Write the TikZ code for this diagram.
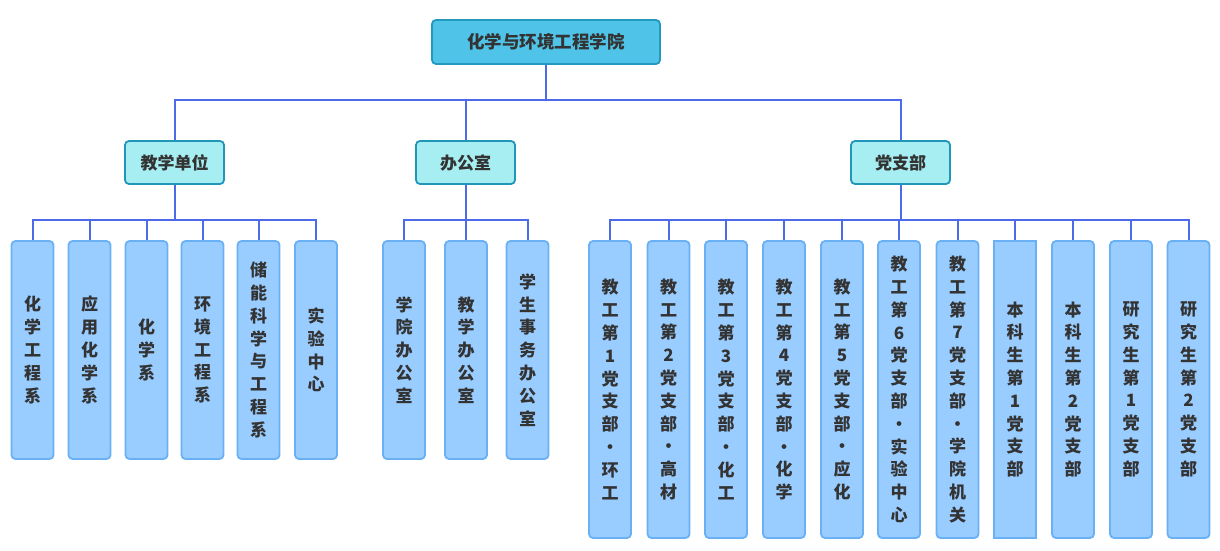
\documentclass[tikz,border=0pt]{standalone}
\usepackage{fontspec}
\setmainfont{Noto Sans CJK SC}
\usetikzlibrary{positioning}
\definecolor{rootfill}{HTML}{4FC3E8}
\definecolor{rootline}{HTML}{2399BF}
\definecolor{unitfill}{HTML}{A6EEF2}
\definecolor{unitline}{HTML}{2196B8}
\definecolor{deptfill}{HTML}{99CCFF}
\definecolor{deptline}{HTML}{6AB0F5}
\definecolor{linkblue}{HTML}{4D6BE8}
\definecolor{textgray}{HTML}{333333}
\tikzset{
  rootbox/.style={draw=rootline, fill=rootfill, line width=1.8pt, rounded corners=4pt,
    inner sep=0pt, minimum width=228, minimum height=44, text=textgray,
    font=\fontsize{17.5}{20}\selectfont\bfseries},
  unitbox/.style={draw=unitline, fill=unitfill, line width=1.8pt, rounded corners=4pt,
    inner sep=0pt, minimum width=99, minimum height=43, text=textgray,
    font=\fontsize{17}{20}\selectfont\bfseries},
  deptbox/.style={draw=deptline, fill=deptfill, line width=1.8pt, rounded corners=4pt,
    inner sep=0pt, minimum width=42, minimum height=218, align=center, text=textgray,
    font=\fontsize{17}{22.8}\selectfont\bfseries},
  branchbox/.style={deptbox, minimum height=297},
  link/.style={draw=linkblue, line width=2pt}
}
\begin{document}
\begin{tikzpicture}[x=1pt,y=-1pt]
\useasboundingbox (0,0) rectangle (1220,551);
% top
\node[rootbox] (root) at (546,42) {化学与环境工程学院};
\coordinate (bartop) at (0,100);

% second row
\node[unitbox] (teach) at (174.5,162.5) {教学单位};
\node[unitbox] (office) at (465.5,162.5) {办公室};
\node[unitbox] (party) at (900.5,162.5) {党支部};
\coordinate (barlow) at (0,220);

% teaching units
\node[deptbox] (t1) at (32.5,350) {化\\学\\工\\程\\系};
\node[deptbox] (t2) at (89.5,350) {应\\用\\化\\学\\系};
\node[deptbox] (t3) at (146.5,350) {化\\学\\系};
\node[deptbox] (t4) at (202.5,350) {环\\境\\工\\程\\系};
\node[deptbox] (t5) at (258.5,350) {储\\能\\科\\学\\与\\工\\程\\系};
\node[deptbox] (t6) at (316,350) {实\\验\\中\\心};

% offices
\node[deptbox] (o1) at (404,350) {学\\院\\办\\公\\室};
\node[deptbox] (o2) at (466,350) {教\\学\\办\\公\\室};
\node[deptbox] (o3) at (527.5,350) {学\\生\\事\\务\\办\\公\\室};

% party branches
\node[branchbox] (p1) at (610,389.5) {教\\工\\第\\1\\党\\支\\部\\·\\环\\工};
\node[branchbox] (p2) at (668.5,389.5) {教\\工\\第\\2\\党\\支\\部\\·\\高\\材};
\node[branchbox] (p3) at (726,389.5) {教\\工\\第\\3\\党\\支\\部\\·\\化\\工};
\node[branchbox] (p4) at (784,389.5) {教\\工\\第\\4\\党\\支\\部\\·\\化\\学};
\node[branchbox] (p5) at (842,389.5) {教\\工\\第\\5\\党\\支\\部\\·\\应\\化};
\node[branchbox] (p6) at (899,389.5) {教\\工\\第\\6\\党\\支\\部\\·\\实\\验\\中\\心};
\node[branchbox] (p7) at (957.5,389.5) {教\\工\\第\\7\\党\\支\\部\\·\\学\\院\\机\\关};
\node[branchbox, sharp corners] (p8) at (1015,389.5) {本\\科\\生\\第\\1\\党\\支\\部};
\node[branchbox] (p9) at (1073,389.5) {本\\科\\生\\第\\2\\党\\支\\部};
\node[branchbox] (p10) at (1131,389.5) {研\\究\\生\\第\\1\\党\\支\\部};
\node[branchbox] (p11) at (1188.5,389.5) {研\\究\\生\\第\\2\\党\\支\\部};

% links
\draw[link] (root.south) -- (root.south |- bartop) -| (teach.north)
            (root.south |- bartop) -| (office.north)
            (root.south |- bartop) -| (party.north);
\foreach \c in {t1,t2,t3,t4,t5,t6}
  \draw[link] (teach.south) -- (teach.south |- barlow) -| (\c.north);
\foreach \c in {o1,o2,o3}
  \draw[link] (office.south) -- (office.south |- barlow) -| (\c.north);
\foreach \c in {p1,p2,p3,p4,p5,p6,p7,p8,p9,p10,p11}
  \draw[link] (party.south) -- (party.south |- barlow) -| (\c.north);
\end{tikzpicture}
\end{document}
